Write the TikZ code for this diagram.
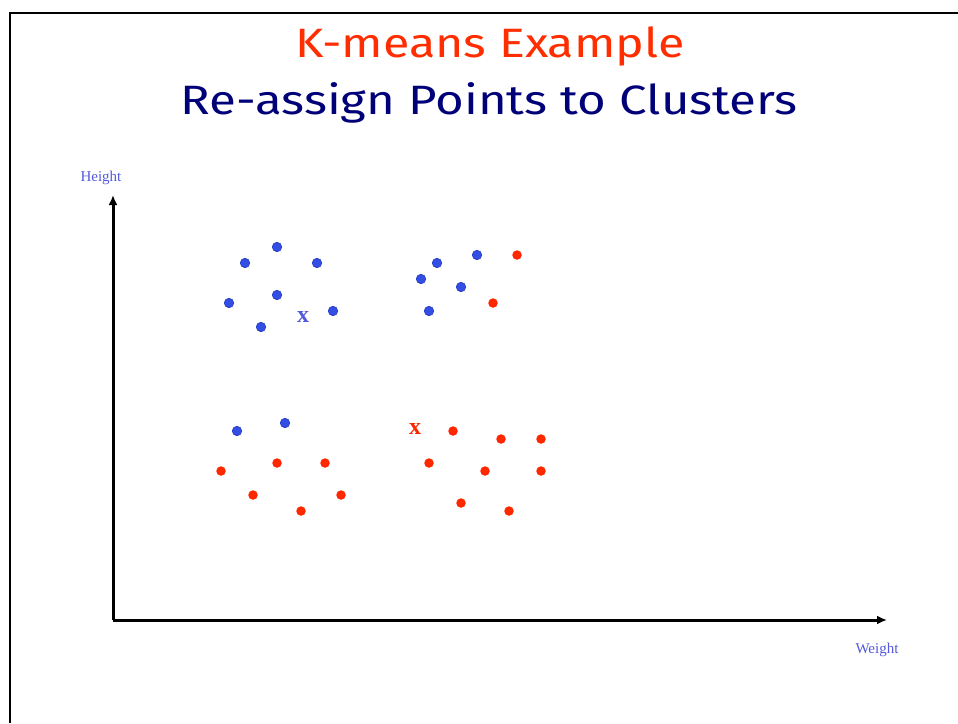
\documentclass[tikz,border=0pt]{standalone}
\usepackage{fontspec}
\setmainfont{Liberation Serif}
\newfontfamily\titlefont{Fira Sans}
\usetikzlibrary{arrows.meta}
\definecolor{dotBlue}{RGB}{52,78,226}
\definecolor{dotBlueEdge}{RGB}{30,55,200}
\definecolor{dotRed}{RGB}{255,38,0}
\definecolor{labelBlue}{RGB}{85,90,220}
\definecolor{titleRed}{RGB}{255,45,0}
\definecolor{titleNavy}{RGB}{0,0,120}

\begin{document}
\begin{tikzpicture}
[x=1pt,y=-1pt,
 bdot/.style={shape=circle,inner sep=0pt,minimum size=9.5pt,draw=dotBlueEdge,line width=0.6pt,fill=dotBlue},
 rdot/.style={shape=circle,inner sep=0pt,minimum size=9.5pt,fill=dotRed},
 centroid/.style={inner sep=0pt,font=\fontsize{24}{24}\selectfont\bfseries},
 axislabel/.style={inner sep=0pt,text=labelBlue,font=\fontsize{15}{15}\selectfont},
 titletext/.style={inner sep=0pt,font=\titlefont\fontsize{41}{41}\selectfont},
 axis/.style={line width=3pt,-{Latex[length=10pt,width=9pt]}}]
\useasboundingbox (0,0) rectangle (958,723);

% frame
\draw[line width=2.6pt] (10,723) -- (10,13) -- (958,13);

% titles
\node[titletext,text=titleRed] (title) at (490,46) {\scalebox{1.18}[1]{K-means Example}};
\node[titletext,text=titleNavy] (subtitle) at (489,103) {\scalebox{1.2}[1]{Re-assign Points to Clusters}};

% axes
\coordinate (origin) at (113,620);
\coordinate (ytop) at (113,195);
\coordinate (xend) at (887,620);
\draw[axis] (origin) -- (ytop);
\draw[axis] (origin) -- (xend);
\node[axislabel] (height) at (101,178) {Height};
\node[axislabel] (weight) at (877,650) {Weight};

% points, blue
\foreach \name/\px/\py in {b1/277/247, b2/245/263, b3/317/263, b4/229/303, b5/277/295,
  b6/261/327, b7/333/311, b8/437/263, b9/477/255, b10/421/279, b11/461/287,
  b12/429/311, b13/237/431, b14/285/423}
{
  \node[bdot] (\name) at (\px,\py) {};
};

% points, red
\foreach \name/\px/\py in {r1/517/255, r2/493/303, r3/221/471, r4/277/463, r5/325/463,
  r6/253/495, r7/341/495, r8/301/511, r9/453/431, r10/501/439, r11/541/439,
  r12/429/463, r13/485/471, r14/541/471, r15/461/503, r16/509/511}
{
  \node[rdot] (\name) at (\px,\py) {};
};

% cluster centres
\node[centroid,text=labelBlue] (cblue) at (303,317) {x};
\node[centroid,text=dotRed] (cred) at (415,429) {x};
\end{tikzpicture}
\end{document}
